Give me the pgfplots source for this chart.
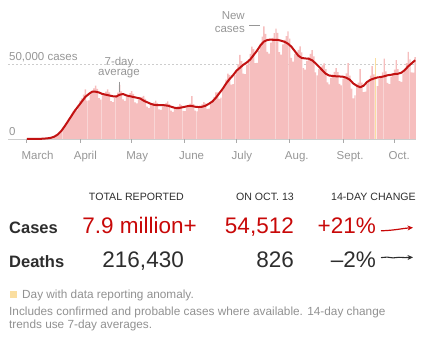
\documentclass[border=0pt]{standalone}
\usepackage{pgfplots}
\pgfplotsset{compat=1.18}
\usepackage{pgfplotstable}
\usetikzlibrary{arrows.meta}
\usepackage{fontspec}
\setmainfont{Liberation Sans}
\definecolor{barpink}{RGB}{246,190,190}
\definecolor{anomaly}{RGB}{250,222,160}
\definecolor{avgred}{RGB}{194,18,18}
\definecolor{numred}{RGB}{200,8,8}
\definecolor{lblgray}{RGB}{150,150,150}
\definecolor{tickgray}{RGB}{170,170,170}
\definecolor{basegray}{RGB}{205,205,205}
\definecolor{darktxt}{RGB}{45,45,45}
\definecolor{foot}{RGB}{145,145,145}

\pgfplotstableread{
d v
0 10
1 15
2 20
3 30
4 50
5 60
6 80
7 110
8 170
9 290
10 330
11 520
12 600
13 800
14 900
15 1200
16 1700
17 2400
18 3300
19 4600
20 5900
21 7200
22 8500
23 10100
24 11500
25 13500
26 17000
27 18800
28 19500
29 19000
30 21800
31 25500
32 27000
33 29500
34 33000
35 25500
36 25800
37 29800
38 32100
39 33700
40 35600
41 33400
42 27300
43 26200
44 29100
45 30300
46 31600
47 33000
48 31000
49 25300
50 24500
51 27500
52 28900
53 30900
54 36000
55 31800
56 26400
57 25400
58 28100
59 29300
60 30500
61 31900
62 30000
63 24400
64 23700
65 26400
66 27500
67 28000
68 28800
69 26800
70 21600
71 20600
72 22800
73 23600
74 24400
75 25500
76 24100
77 19800
78 19400
79 21800
80 23000
81 24100
82 25100
83 23300
84 18900
85 18100
86 20200
87 21000
88 21900
89 23400
90 22500
91 18700
92 18500
93 21000
94 22400
95 23500
96 28500
97 23200
98 18900
99 18400
100 20700
101 21800
102 23000
103 24600
104 23800
105 20100
106 20200
107 23500
108 25500
109 28000
110 31100
111 31000
112 26800
113 27500
114 32500
115 35900
116 39600
117 43500
118 42800
119 36300
120 36600
121 42700
122 46400
123 49800
124 56000
125 51900
126 43600
127 43200
128 49500
129 53000
130 56700
131 61600
132 59900
133 50600
134 50700
135 58900
136 63800
137 68200
138 75000
139 70100
140 58100
141 56900
142 64300
143 67400
144 70600
145 73500
146 70700
147 57900
148 56300
149 63100
150 66100
151 68600
152 71800
153 66900
154 54100
155 51600
156 56700
157 58100
158 59400
159 61800
160 57800
161 47300
162 46200
163 52000
164 54600
165 56700
166 59300
167 55100
168 44400
169 42400
170 46800
171 47900
172 49000
173 50400
174 46500
175 37800
176 36400
177 40800
178 42800
179 44800
180 47200
181 44600
182 36700
183 35800
184 40300
185 41900
186 43700
187 50500
188 42300
189 33600
190 27000
191 29000
192 36200
193 37500
194 46500
195 37500
196 31200
197 31600
198 36900
199 39500
200 42300
201 48500
202 43100
204 35300
205 39900
206 42100
207 44400
208 53500
209 45000
210 37400
211 36600
212 41500
213 43900
214 46300
215 52500
216 46500
217 38500
218 38000
219 43700
220 46900
221 50500
222 58000
223 53000
224 44400
225 44300
226 54500
}\dailytable

\pgfplotstableread{
d v
203 54000
}\anomalytable

\pgfplotstableread{
d a
0 0
4 50
8 120
10 250
12 450
14 800
16 1600
18 3000
20 5300
22 8500
24 12000
26 15500
28 19000
30 22000
32 25000
34 28000
36 30000
38 31500
40 31500
42 31000
44 30000
46 29500
48 29000
50 28500
52 28300
54 29500
56 30000
58 29000
60 28500
62 28000
64 27500
66 27000
68 25500
70 24500
72 23500
74 22800
76 22500
78 22500
80 22500
82 22200
84 21500
86 20800
88 20500
90 21000
92 21500
94 22000
96 22000
98 21500
100 21300
102 21500
104 22200
106 23500
108 25000
110 27500
112 30500
114 33500
116 37000
118 40000
120 42500
122 45500
124 47500
126 49500
128 51000
130 53000
132 56000
134 59000
136 62500
138 65000
140 66000
142 66300
144 66000
146 66100
148 65500
150 64800
152 63500
154 61500
156 58500
158 55500
160 54000
162 53700
164 53500
166 52500
168 50500
170 48200
172 45800
174 43500
176 42300
178 42000
180 41800
182 41700
184 41500
186 40800
188 39500
190 37000
192 35500
194 34500
196 35500
198 38000
200 39500
202 40300
204 41000
206 41300
208 41800
210 42500
212 42800
214 43300
216 43500
218 44200
220 46000
222 48500
224 50500
226 52500
}\avgtable

\newcommand\axfont{\fontsize{11.5}{13}\selectfont}
\newcommand\hdrfont{\fontsize{10.6}{12}\selectfont}
\newcommand\bigfont{\fontsize{22.5}{26}\selectfont}
\newcommand\rowfont{\fontsize{16.5}{19}\selectfont\bfseries}
\newcommand\footfont{\fontsize{11.8}{13}\selectfont}

\begin{document}
\begin{tikzpicture}[x=1pt,y=1pt]
\useasboundingbox (0,0) rectangle (423,344);
\begin{axis}[
  at={(8pt,205pt)}, anchor=south west,
  scale only axis, width=408pt, height=135pt,
  xmin=-11, xmax=226.5, ymin=0, ymax=90000,
  hide axis, clip=false]
  % gridline
  \draw[basegray, line width=0.6pt, dash pattern=on 2pt off 2pt] (axis cs:-11,50000) -- (axis cs:226.5,50000);
  \addplot[ybar, bar width=0.84, fill=barpink, draw=none] table[x=d, y=v] {\dailytable};
  \addplot[ybar, bar width=0.84, fill=anomaly, draw=none] table[x=d, y=v] {\anomalytable};
  % baseline
  \draw[basegray, line width=0.7pt] (axis cs:-11,0) -- (axis cs:226.5,0);
  \addplot[no marks, avgred, line width=2pt, line join=round] table[x=d, y=a] {\avgtable};
  % month ticks
  \draw[tickgray, line width=0.9pt]
    (axis cs:0,0) -- ([yshift=-4.5pt]axis cs:0,0)
    (axis cs:31,0) -- ([yshift=-4.5pt]axis cs:31,0)
    (axis cs:61,0) -- ([yshift=-4.5pt]axis cs:61,0)
    (axis cs:92,0) -- ([yshift=-4.5pt]axis cs:92,0)
    (axis cs:122,0) -- ([yshift=-4.5pt]axis cs:122,0)
    (axis cs:153,0) -- ([yshift=-4.5pt]axis cs:153,0)
    (axis cs:184,0) -- ([yshift=-4.5pt]axis cs:184,0)
    (axis cs:214,0) -- ([yshift=-4.5pt]axis cs:214,0);
  \node[anchor=base west, inner sep=0pt, text=lblgray, font=\axfont] at ([xshift=-5.5pt, yshift=-20.3pt]axis cs:0,0) {March};
  \node[anchor=base west, inner sep=0pt, text=lblgray, font=\axfont] at ([xshift=-6.5pt, yshift=-20.3pt]axis cs:31,0) {April};
  \node[anchor=base west, inner sep=0pt, text=lblgray, font=\axfont] at ([xshift=-5.5pt, yshift=-20.3pt]axis cs:61,0) {May};
  \node[anchor=base west, inner sep=0pt, text=lblgray, font=\axfont] at ([xshift=-6pt, yshift=-20.3pt]axis cs:92,0) {June};
  \node[anchor=base west, inner sep=0pt, text=lblgray, font=\axfont] at ([xshift=-5pt, yshift=-20.3pt]axis cs:122,0) {July};
  \node[anchor=base west, inner sep=0pt, text=lblgray, font=\axfont] at ([xshift=-5pt, yshift=-20.3pt]axis cs:153,0) {Aug.};
  \node[anchor=base west, inner sep=0pt, text=lblgray, font=\axfont] at ([xshift=-6.5pt, yshift=-20.3pt]axis cs:184,0) {Sept.};
  \node[anchor=base west, inner sep=0pt, text=lblgray, font=\axfont] at ([xshift=-6pt, yshift=-20.3pt]axis cs:214,0) {Oct.};
\end{axis}

% y labels
\node[anchor=base west, inner sep=0pt, text=lblgray, font=\axfont] at (9,283.3) {50,000 cases};
\node[anchor=base west, inner sep=0pt, text=lblgray, font=\axfont] at (9,208.3) {0};

% annotations
\node[anchor=base, inner sep=0pt, text=lblgray, font=\axfont] at (119,278) {7-day};
\node[anchor=base, inner sep=0pt, text=lblgray, font=\axfont] at (119,268) {average};
\draw[lblgray, line width=0.7pt] (119.3,262.3) -- (119.3,252.3);
\node[anchor=base east, inner sep=0pt, text=lblgray, font=\axfont] at (245,324) {New};
\node[anchor=base east, inner sep=0pt, text=lblgray, font=\axfont] at (245,311.3) {cases};
\draw[lblgray, line width=0.7pt] (249.3,318.3) -- (260,318.3);

% table header
\node[anchor=base east, inner sep=0pt, text=darktxt, font=\hdrfont] at (184,143.3) {TOTAL REPORTED};
\node[anchor=base east, inner sep=0pt, text=darktxt, font=\hdrfont] at (294,143.3) {ON OCT. 13};
\node[anchor=base east, inner sep=0pt, text=darktxt, font=\hdrfont] at (416,143.3) {14-DAY CHANGE};

% cases row
\node[anchor=base west, inner sep=0pt, text=darktxt, font=\rowfont] at (9,110) {Cases};
\node[anchor=base east, inner sep=0pt, text=numred, font=\bigfont] at (197,110) {7.9 million+};
\node[anchor=base east, inner sep=0pt, text=numred, font=\bigfont] at (294,110) {54,512};
\node[anchor=base east, inner sep=0pt, text=numred, font=\bigfont] at (376,110) {+21\%};
\draw[numred, line width=1.2pt, -{Stealth[length=5.5pt,width=5pt]}] (381,113.2) .. controls (395,113.6) and (402,115.6) .. (413,116.4);

% deaths row
\node[anchor=base west, inner sep=0pt, text=darktxt, font=\rowfont] at (9,76.7) {Deaths};
\node[anchor=base east, inner sep=0pt, text=darktxt, font=\bigfont] at (184,76.7) {216,430};
\node[anchor=base east, inner sep=0pt, text=darktxt, font=\bigfont] at (294,76.7) {826};
\node[anchor=base east, inner sep=0pt, text=darktxt, font=\bigfont] at (376,76.7) {–2\%};
\draw[darktxt, line width=1.1pt, -{Stealth[length=5.5pt,width=5pt]}] (381,86.4) -- (387,86.9) -- (393,86.1) -- (399,86.7) -- (405,86.4) -- (413,86.7);

% footnotes
\fill[anomaly] (9.5,45.5) rectangle (16.5,52.5);
\node[anchor=base west, inner sep=0pt, text=foot, font=\footfont] at (22,45) {Day with data reporting anomaly.};
\node[anchor=base west, inner sep=0pt, text=foot, font=\footfont] at (9,28.3) {Includes confirmed and probable cases where available. 14-day change};
\node[anchor=base west, inner sep=0pt, text=foot, font=\footfont] at (9,15.3) {trends use 7-day averages.};
\end{tikzpicture}
\end{document}
